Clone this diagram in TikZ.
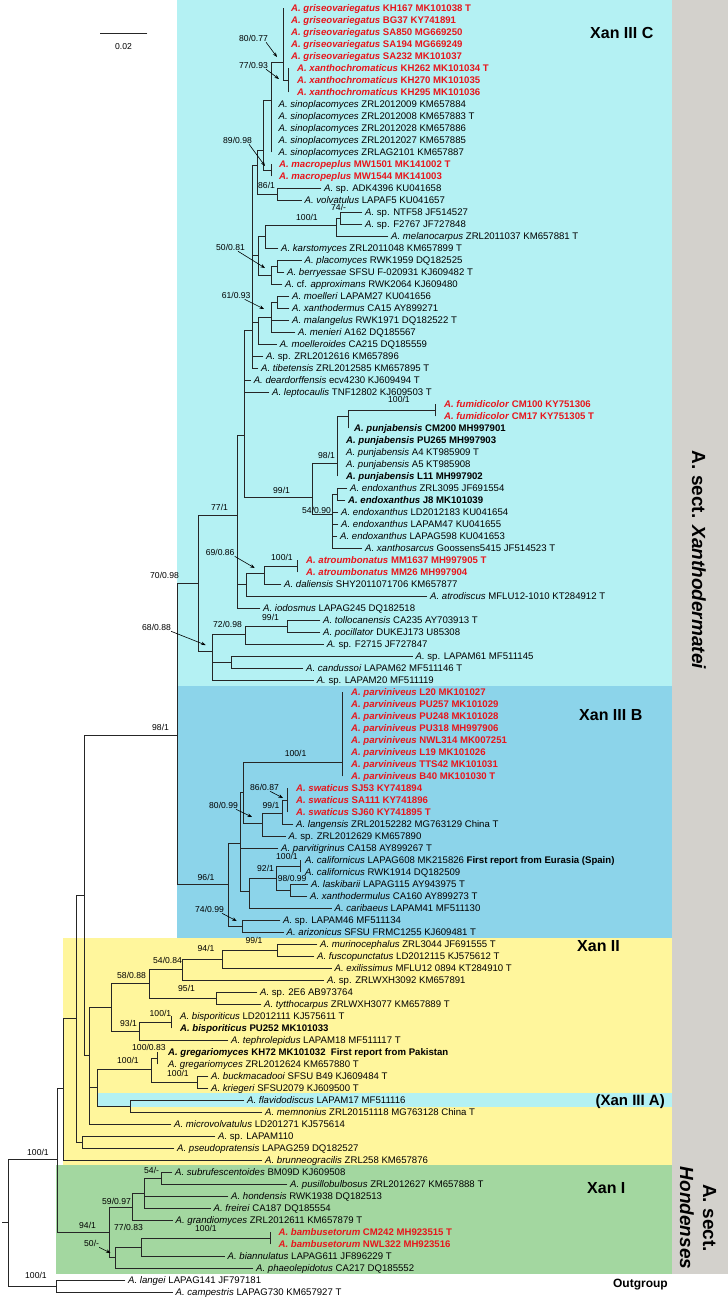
\documentclass[tikz,border=0pt]{standalone}
\usepackage{fontspec}
\setmainfont{Liberation Sans}
\usetikzlibrary{arrows.meta}
\definecolor{xred}{HTML}{E8161C}
\definecolor{bgc}{HTML}{B4F1F3}
\definecolor{bgb}{HTML}{8CD4EA}
\definecolor{bgy}{HTML}{FFF69C}
\definecolor{bgg}{HTML}{A3D7A0}
\definecolor{bgr}{HTML}{D3D1CC}
\begin{document}
\begin{tikzpicture}[x=1pt,y=-1pt,
 lf/.style={anchor=west, inner xsep=3pt, inner ysep=0pt, text height=6.9pt, text depth=0pt, font=\fontsize{9.6}{11}\selectfont},
 rd/.style={lf, font=\fontsize{9.6}{11}\selectfont\bfseries, text=xred},
 bd/.style={lf, font=\fontsize{9.6}{11}\selectfont\bfseries},
 br/.style={draw=black!85, line width=0.75pt, line cap=rect},
 sup/.style={anchor=west, inner sep=0pt, text height=6.2pt, text depth=0pt, font=\fontsize{8.6}{10}\selectfont},
 arr/.style={draw=black, line width=0.6pt, -{Stealth[length=4.5pt,width=3.5pt]}},
 clade/.style={anchor=west, inner sep=0pt, text height=11.5pt, text depth=0pt, font=\fontsize{16}{18}\selectfont\bfseries}]
\useasboundingbox (0,0) rectangle (728,1299);
% backgrounds
\fill[bgc] (177,0) rectangle (672,686);
\fill[bgb] (177,686) rectangle (672,938);
\fill[bgy] (63,938) rectangle (672,1165);
\fill[bgc] (97,1093) rectangle (672,1107);
\fill[bgg] (56,1165) rectangle (672,1274);
\fill[bgr] (672,0) rectangle (728,1274);
% section labels
\node[rotate=-90, inner sep=0pt, font=\fontsize{19}{23}\selectfont\bfseries] (secX) at (699,560) {A. sect. \textit{Xanthodermatei}};
\node[rotate=-90, inner sep=0pt, align=center, font=\fontsize{19}{23}\selectfont\bfseries] (secH) at (698,1218) {A. sect.\\\textit{Hondenses}};
\node[clade] (cC) at (590,33) {Xan III C};
\node[clade] (cB) at (579,715) {Xan III B};
\node[clade] (cII) at (577,946) {Xan II};
\node[anchor=east, inner sep=0pt, text height=10.7pt, text depth=0pt, font=\fontsize{15}{17}\selectfont\bfseries] (cA) at (665,1100) {(Xan III A)};
\node[clade] (cI) at (587,1188) {Xan I};
\node[anchor=east, inner sep=0pt, text height=8.6pt, text depth=0pt, font=\fontsize{12}{14}\selectfont\bfseries] (og) at (668,1283) {Outgroup};
% scale bar
\coordinate (sb1) at (100,33); \coordinate (sb2) at (147,33);
\draw[br] (sb1) -- (sb2);
\node[sup, anchor=center] (sbl) at (123.5,46) {0.02};
% ---------------- leaves ----------------
\node[rd,inner xsep=8pt] (l1) at (283,8) {\textit{A. griseovariegatus} KH167 MK101038 T};
\node[rd,inner xsep=8pt] (l2) at (283,20) {\textit{A. griseovariegatus} BG37 KY741891};
\node[rd,inner xsep=8pt] (l3) at (283,32) {\textit{A. griseovariegatus} SA850 MG669250};
\node[rd,inner xsep=8pt] (l4) at (283,44) {\textit{A. griseovariegatus} SA194 MG669249};
\node[rd,inner xsep=8pt] (l5) at (283,56) {\textit{A. griseovariegatus} SA232 MK101037};
\node[rd,inner xsep=8.5pt] (l6) at (288.5,68) {\textit{A. xanthochromaticus} KH262 MK101034 T};
\node[rd,inner xsep=8.5pt] (l7) at (288.5,80) {\textit{A. xanthochromaticus} KH270 MK101035};
\node[rd,inner xsep=8.5pt] (l8) at (288.5,92) {\textit{A. xanthochromaticus} KH295 MK101036};
\node[lf,inner xsep=7.5pt] (l9) at (271,104) {\textit{A. sinoplacomyces} ZRL2012009 KM657884};
\node[lf,inner xsep=7.5pt] (l10) at (271,116) {\textit{A. sinoplacomyces} ZRL2012008 KM657883 T};
\node[lf,inner xsep=7.5pt] (l11) at (271,128) {\textit{A. sinoplacomyces} ZRL2012028 KM657886};
\node[lf,inner xsep=7.5pt] (l12) at (271,140) {\textit{A. sinoplacomyces} ZRL2012027 KM657885};
\node[lf,inner xsep=7.5pt] (l13) at (271,152) {\textit{A. sinoplacomyces} ZRLAG2101 KM657887};
\node[rd,inner xsep=8pt] (l14) at (271,164) {\textit{A. macropeplus} MW1501 MK141002 T};
\node[rd,inner xsep=8pt] (l15) at (271,176) {\textit{A. macropeplus} MW1544 MK141003};
\node[lf] (l16) at (321,188) {\textit{A.} sp. ADK4396 KU041658};
\node[lf] (l17) at (301.5,200) {\textit{A. volvatulus} LAPAF5 KU041657};
\node[lf] (l18) at (362,212) {\textit{A.} sp. NTF58 JF514527};
\node[lf] (l19) at (362,224) {\textit{A.} sp. F2767 JF727848};
\node[lf] (l20) at (388,236) {\textit{A. melanocarpus} ZRL2011037 KM657881 T};
\node[lf] (l21) at (278,248) {\textit{A. karstomyces} ZRL2011048 KM657899 T};
\node[lf] (l22) at (301.5,260) {\textit{A. placomyces} RWK1959 DQ182525};
\node[lf] (l23) at (284,272) {\textit{A. berryessae} SFSU F-020931 KJ609482 T};
\node[lf] (l24) at (282,284) {\textit{A.} cf. \textit{approximans} RWK2064 KJ609480};
\node[lf] (l25) at (289,296) {\textit{A. moelleri} LAPAM27 KU041656};
\node[lf] (l26) at (289,308) {\textit{A. xanthodermus} CA15 AY899271};
\node[lf] (l27) at (289,320) {\textit{A. malangelus} RWK1971 DQ182522 T};
\node[lf] (l28) at (295,332) {\textit{A. menieri} A162 DQ185567};
\node[lf] (l29) at (276.6,344) {\textit{A. moelleroides} CA215 DQ185559};
\node[lf] (l30) at (263,356) {\textit{A.} sp. ZRL2012616 KM657896};
\node[lf] (l31) at (258,368) {\textit{A. tibetensis} ZRL2012585 KM657895 T};
\node[lf] (l32) at (250.6,380) {\textit{A. deardorffensis} ecv4230 KJ609494 T};
\node[lf] (l33) at (269,392) {\textit{A. leptocaulis} TNF12802 KJ609503 T};
\node[rd,inner xsep=9pt] (l34) at (435,404) {\textit{A. fumidicolor} CM100 KY751306};
\node[rd,inner xsep=9pt] (l35) at (435,416) {\textit{A. fumidicolor} CM17 KY751305 T};
\node[bd,inner xsep=6pt] (l36) at (348,428) {\textit{A. punjabensis} CM200 MH997901};
\node[bd,inner xsep=9pt] (l37) at (337,440) {\textit{A. punjabensis} PU265 MH997903};
\node[lf,inner xsep=9pt] (l38) at (337,452) {\textit{A. punjabensis} A4 KT985909 T};
\node[lf,inner xsep=9pt] (l39) at (337,464) {\textit{A. punjabensis} A5 KT985908};
\node[bd,inner xsep=9pt] (l40) at (337,476) {\textit{A. punjabensis} L11 MH997902};
\node[lf] (l41) at (347,488) {\textit{A. endoxanthus} ZRL3095 JF691554};
\node[bd] (l42) at (345,500) {\textit{A. endoxanthus} J8 MK101039};
\node[lf] (l43) at (338,512) {\textit{A. endoxanthus} LD2012183 KU041654};
\node[lf] (l44) at (338,524) {\textit{A. endoxanthus} LAPAM47 KU041655};
\node[lf] (l45) at (337,536) {\textit{A. endoxanthus} LAPAG598 KU041653};
\node[lf] (l46) at (362,548) {\textit{A. xanthosarcus} Goossens5415 JF514523 T};
\node[rd,inner xsep=9pt] (l47) at (297,560) {\textit{A. atroumbonatus} MM1637 MH997905 T};
\node[rd,inner xsep=9pt] (l48) at (297,572) {\textit{A. atroumbonatus} MM26 MH997904};
\node[lf] (l49) at (281,584) {\textit{A. daliensis} SHY2011071706 KM657877};
\node[lf] (l50) at (427,596) {\textit{A. atrodiscus} MFLU12-1010 KT284912 T};
\node[lf] (l51) at (260,608) {\textit{A. iodosmus} LAPAG245 DQ182518};
\node[lf] (l52) at (320,620) {\textit{A. tollocanensis} CA235 AY703913 T};
\node[lf] (l53) at (320,632) {\textit{A. pocillator} DUKEJ173 U85308};
\node[lf] (l54) at (323.6,644) {\textit{A.} sp. F2715 JF727847};
\node[lf] (l55) at (412.5,656) {\textit{A.} sp. LAPAM61 MF511145};
\node[lf] (l56) at (303,668) {\textit{A. candussoi} LAPAM62 MF511146 T};
\node[lf] (l57) at (313.6,680) {\textit{A.} sp. LAPAM20 MF511119};
% Xan III B
\node[rd,inner xsep=9pt] (l58) at (342,692) {\textit{A. parviniveus} L20 MK101027};
\node[rd,inner xsep=9pt] (l59) at (342,704) {\textit{A. parviniveus} PU257 MK101029};
\node[rd,inner xsep=9pt] (l60) at (342,716) {\textit{A. parviniveus} PU248 MK101028};
\node[rd,inner xsep=9pt] (l61) at (342,728) {\textit{A. parviniveus} PU318 MH997906};
\node[rd,inner xsep=9pt] (l62) at (342,740) {\textit{A. parviniveus} NWL314 MK007251};
\node[rd,inner xsep=9pt] (l63) at (342,752) {\textit{A. parviniveus} L19 MK101026};
\node[rd,inner xsep=9pt] (l64) at (342,764) {\textit{A. parviniveus} TTS42 MK101031};
\node[rd,inner xsep=9pt] (l65) at (342,776) {\textit{A. parviniveus} B40 MK101030 T};
\node[rd,inner xsep=8.6pt] (l66) at (287.4,788) {\textit{A. swaticus} SJ53 KY741894};
\node[rd,inner xsep=8.6pt] (l67) at (287.4,800) {\textit{A. swaticus} SA111 KY741896};
\node[rd,inner xsep=8.6pt] (l68) at (287.4,812) {\textit{A. swaticus} SJ60 KY741895 T};
\node[lf] (l69) at (293,824) {\textit{A. langensis} ZRL20152282 MG763129 China T};
\node[lf] (l70) at (285.5,836) {\textit{A.} sp. ZRL2012629 KM657890};
\node[lf] (l71) at (278,848) {\textit{A. parvitigrinus} CA158 AY899267 T};
\node[lf,inner xsep=4.3pt] (l72) at (300.7,860) {\textit{A. californicus} LAPAG608 MK215826 \textbf{First report from Eurasia (Spain)}};
\node[lf,inner xsep=4.3pt] (l73) at (300.7,872) {\textit{A. californicus} RWK1914 DQ182509};
\node[lf] (l74) at (308,884) {\textit{A. laskibarii} LAPAG115 AY943975 T};
\node[lf] (l75) at (307,896) {\textit{A. xanthodermulus} CA160 AY899273 T};
\node[lf] (l76) at (331.5,908) {\textit{A. caribaeus} LAPAM41 MF511130};
\node[lf] (l77) at (280,920) {\textit{A.} sp. LAPAM46 MF511134};
\node[lf] (l78) at (283.5,932) {\textit{A. arizonicus} SFSU FRMC1255 KJ609481 T};
% Xan II
\node[lf] (l79) at (317,944) {\textit{A. murinocephalus} ZRL3044 JF691555 T};
\node[lf] (l80) at (314,956) {\textit{A. fuscopunctatus} LD2012115 KJ575612 T};
\node[lf] (l81) at (331.5,968) {\textit{A. exilissimus} MFLU12 0894 KT284910 T};
\node[lf] (l82) at (324,980) {\textit{A.} sp. ZRLWXH3092 KM657891};
\node[lf] (l83) at (257,992) {\textit{A.} sp. 2E6 AB973764};
\node[lf] (l84) at (261,1004) {\textit{A. tytthocarpus} ZRLWXH3077 KM657889 T};
\node[lf,inner xsep=9pt] (l85) at (171,1016) {\textit{A. bisporiticus} LD2012111 KJ575611 T};
\node[bd,inner xsep=9pt] (l86) at (171,1028) {\textit{A. bisporiticus} PU252 MK101033};
\node[lf] (l87) at (228,1040) {\textit{A. tephrolepidus} LAPAM18 MF511117 T};
\node[bd,inner xsep=11pt] (l88) at (157,1052) {\textit{A. gregariomyces} KH72 MK101032\ \ First report from Pakistan};
\node[lf,inner xsep=11pt] (l89) at (157,1064) {\textit{A. gregariomyces} ZRL2012624 KM657880 T};
\node[lf] (l90) at (208,1076) {\textit{A. buckmacadooi} SFSU B49 KJ609484 T};
\node[lf] (l91) at (208,1088) {\textit{A. kriegeri} SFSU2079 KJ609500 T};
\node[lf] (l92) at (244,1100) {\textit{A. flavidodiscus} LAPAM17 MF511116};
\node[lf] (l93) at (262,1112) {\textit{A. memnonius} ZRL20151118 MG763128 China T};
\node[lf] (l94) at (171,1124) {\textit{A. microvolvatulus} LD201271 KJ575614};
\node[lf] (l95) at (215,1136) {\textit{A.} sp. LAPAM110};
\node[lf] (l96) at (174,1148) {\textit{A. pseudopratensis} LAPAG259 DQ182527};
\node[lf] (l97) at (262,1160) {\textit{A. brunneogracilis} ZRL258 KM657876};
% Xan I
\node[lf] (l98) at (172,1172) {\textit{A. subrufescentoides} BM09D KJ609508};
\node[lf] (l99) at (287,1184) {\textit{A. pusillobulbosus} ZRL2012627 KM657888 T};
\node[lf] (l100) at (228,1196) {\textit{A. hondensis} RWK1938 DQ182513};
\node[lf] (l101) at (210.5,1208) {\textit{A. freirei} CA187 DQ185554};
\node[lf] (l102) at (172.5,1220) {\textit{A. grandiomyces} ZRL2012611 KM657879 T};
\node[rd,inner xsep=8.5pt] (l103) at (270,1232) {\textit{A. bambusetorum} CM242 MH923515 T};
\node[rd,inner xsep=8.5pt] (l104) at (270,1244) {\textit{A. bambusetorum} NWL322 MH923516};
\node[lf] (l105) at (224.5,1256) {\textit{A. biannulatus} LAPAG611 JF896229 T};
\node[lf] (l106) at (253,1268) {\textit{A. phaeolepidotus} CA217 DQ185552};
\node[lf] (l107) at (125,1280) {\textit{A. langei} LAPAG141 JF797181};
\node[lf] (l108) at (172.5,1292) {\textit{A. campestris} LAPAG730 KM657927 T};
% ---------------- internal nodes ----------------
\coordinate (nGX) at (283,62); \coordinate (nXC) at (288.5,80); \coordinate (nSI) at (271,100);
\coordinate (nMP) at (271,170); \coordinate (nMA) at (263,150); \coordinate (nSP) at (277,194);
\coordinate (nV) at (257,165); \coordinate (n74) at (340,218); \coordinate (n100) at (336,225);
\coordinate (nK) at (265,236); \coordinate (nPB) at (277,266); \coordinate (nPA) at (271.5,275);
\coordinate (nP50) at (258,255); \coordinate (nMX) at (277,302); \coordinate (nML) at (271.5,317);
\coordinate (nM61) at (258,322); \coordinate (nB) at (252,330); \coordinate (nL) at (244,435);
\coordinate (nFU) at (435,410); \coordinate (nCM) at (348,416); \coordinate (n98) at (337,463);
\coordinate (nE2) at (337,494); \coordinate (nEN) at (332,514); \coordinate (n99) at (312,497);
\coordinate (nAT) at (297,566); \coordinate (nDA) at (264,573); \coordinate (n69) at (246,584);
\coordinate (n77) at (237.6,515); \coordinate (nTP) at (287,626); \coordinate (n72) at (245,634);
\coordinate (nCA) at (231,662); \coordinate (n68) at (212.7,651); \coordinate (n70) at (198,583);
\coordinate (nPV) at (342,762); \coordinate (nSW) at (287.4,800); \coordinate (n99B) at (282.5,813);
\coordinate (n80) at (262,823); \coordinate (nA1) at (243,792); \coordinate (nCL) at (300.7,866);
\coordinate (nLX) at (290,890); \coordinate (n92) at (276,878); \coordinate (nCB) at (249,891);
\coordinate (nA2) at (240,843); \coordinate (n74B) at (242,926); \coordinate (n96) at (228,884);
\coordinate (n98B) at (177,735);
\coordinate (nMF) at (277,950); \coordinate (n94) at (222,959); \coordinate (n54) at (182,969);
\coordinate (n95) at (216,998); \coordinate (n58) at (149.5,983); \coordinate (nBI) at (171,1022);
\coordinate (n93) at (139.5,1031); \coordinate (n111) at (111,1007); \coordinate (nGR) at (157,1058);
\coordinate (nBK) at (197.5,1082); \coordinate (n151) at (151,1069); \coordinate (nFM) at (130,1106);
\coordinate (n97) at (97,1087); \coordinate (n89) at (89,1055); \coordinate (n84) at (84,895);
\coordinate (nLP) at (82,1142); \coordinate (n76) at (76,1018); \coordinate (n63) at (63,1088);
\coordinate (n54X) at (161,1178); \coordinate (n144) at (144,1193); \coordinate (n132) at (132,1207);
\coordinate (nBA) at (270,1238); \coordinate (n77X) at (141.6,1247); \coordinate (n50X) at (115,1257);
\coordinate (n109) at (109,1232); \coordinate (n57) at (57,1159); \coordinate (nOG) at (56,1286);
\coordinate (rt) at (8,1222); \coordinate (rs) at (2,1222);
% ---------------- branches ----------------
\foreach \c in {l1,l2,l3,l4,l5,nXC} \draw[br] (nGX) |- (\c);
\foreach \c in {l6,l7,l8} \draw[br] (nXC) |- (\c);
\foreach \c in {nGX,l9,l10,l11,l12,l13} \draw[br] (nSI) |- (\c);
\foreach \c in {l14,l15} \draw[br] (nMP) |- (\c);
\foreach \c in {nSI,nMP} \draw[br] (nMA) |- (\c);
\foreach \c in {l16,l17} \draw[br] (nSP) |- (\c);
\foreach \c in {nMA,nSP} \draw[br] (nV) |- (\c);
\foreach \c in {l18,l19} \draw[br] (n74) |- (\c);
\foreach \c in {n74,l20} \draw[br] (n100) |- (\c);
\foreach \c in {n100,l21} \draw[br] (nK) |- (\c);
\foreach \c in {l22,l23} \draw[br] (nPB) |- (\c);
\foreach \c in {nPB,l24} \draw[br] (nPA) |- (\c);
\foreach \c in {nK,nPA} \draw[br] (nP50) |- (\c);
\foreach \c in {l25,l26} \draw[br] (nMX) |- (\c);
\foreach \c in {nMX,l27,l28} \draw[br] (nML) |- (\c);
\foreach \c in {nML,l29} \draw[br] (nM61) |- (\c);
\foreach \c in {nV,nP50,nM61,l30,l31} \draw[br] (nB) |- (\c);
\foreach \c in {nB,l32,l33,n99} \draw[br] (nL) |- (\c);
\foreach \c in {l34,l35} \draw[br] (nFU) |- (\c);
\foreach \c in {nFU,l36} \draw[br] (nCM) |- (\c);
\foreach \c in {nCM,l37,l38,l39,l40} \draw[br] (n98) |- (\c);
\foreach \c in {l41,l42} \draw[br] (nE2) |- (\c);
\foreach \c in {nE2,l43,l44,l45,l46} \draw[br] (nEN) |- (\c);
\foreach \c in {n98,nEN} \draw[br] (n99) |- (\c);
\foreach \c in {l47,l48} \draw[br] (nAT) |- (\c);
\foreach \c in {nAT,l49} \draw[br] (nDA) |- (\c);
\foreach \c in {nDA,l50} \draw[br] (n69) |- (\c);
\foreach \c in {nL,n69,l51} \draw[br] (n77) |- (\c);
\foreach \c in {l52,l53} \draw[br] (nTP) |- (\c);
\foreach \c in {nTP,l54} \draw[br] (n72) |- (\c);
\foreach \c in {l55,l56} \draw[br] (nCA) |- (\c);
\foreach \c in {n72,nCA,l57} \draw[br] (n68) |- (\c);
\foreach \c in {n77,n68} \draw[br] (n70) |- (\c);
\foreach \i in {58,...,65} \draw[br] (nPV) |- (l\i);
\foreach \i in {66,67,68} \draw[br] (nSW) |- (l\i);
\foreach \c in {nSW,l69} \draw[br] (n99B) |- (\c);
\foreach \c in {n99B,l70} \draw[br] (n80) |- (\c);
\foreach \c in {nPV,n80} \draw[br] (nA1) |- (\c);
\foreach \c in {l72,l73} \draw[br] (nCL) |- (\c);
\foreach \c in {l74,l75} \draw[br] (nLX) |- (\c);
\foreach \c in {nCL,nLX} \draw[br] (n92) |- (\c);
\foreach \c in {n92,l76} \draw[br] (nCB) |- (\c);
\foreach \c in {nA1,l71,nCB} \draw[br] (nA2) |- (\c);
\foreach \c in {l77,l78} \draw[br] (n74B) |- (\c);
\foreach \c in {nA2,n74B} \draw[br] (n96) |- (\c);
\foreach \c in {n70,n96} \draw[br] (n98B) |- (\c);
\foreach \c in {l79,l80} \draw[br] (nMF) |- (\c);
\foreach \c in {nMF,l81} \draw[br] (n94) |- (\c);
\foreach \c in {n94,l82} \draw[br] (n54) |- (\c);
\foreach \c in {l83,l84} \draw[br] (n95) |- (\c);
\foreach \c in {n54,n95} \draw[br] (n58) |- (\c);
\foreach \c in {l85,l86} \draw[br] (nBI) |- (\c);
\foreach \c in {nBI,l87} \draw[br] (n93) |- (\c);
\foreach \c in {n58,n93} \draw[br] (n111) |- (\c);
\foreach \c in {l88,l89} \draw[br] (nGR) |- (\c);
\foreach \c in {l90,l91} \draw[br] (nBK) |- (\c);
\foreach \c in {nGR,nBK} \draw[br] (n151) |- (\c);
\foreach \c in {l92,l93} \draw[br] (nFM) |- (\c);
\foreach \c in {n151,nFM} \draw[br] (n97) |- (\c);
\foreach \c in {n111,n97,l94} \draw[br] (n89) |- (\c);
\foreach \c in {n98B,n89} \draw[br] (n84) |- (\c);
\foreach \c in {l95,l96} \draw[br] (nLP) |- (\c);
\foreach \c in {n84,nLP} \draw[br] (n76) |- (\c);
\foreach \c in {n76,l97} \draw[br] (n63) |- (\c);
\foreach \c in {l98,l99} \draw[br] (n54X) |- (\c);
\foreach \c in {n54X,l100,l101} \draw[br] (n144) |- (\c);
\foreach \c in {n144,l102} \draw[br] (n132) |- (\c);
\foreach \c in {l103,l104} \draw[br] (nBA) |- (\c);
\foreach \c in {nBA,l105} \draw[br] (n77X) |- (\c);
\foreach \c in {n77X,l106} \draw[br] (n50X) |- (\c);
\foreach \c in {n132,n50X} \draw[br] (n109) |- (\c);
\foreach \c in {n63,n109} \draw[br] (n57) |- (\c);
\foreach \c in {l107,l108} \draw[br] (nOG) |- (\c);
\foreach \c in {n57,nOG} \draw[br] (rt) |- (\c);
\draw[br] (rs) -- (rt);
% ---------------- support values ----------------
\node[sup] (s1) at (239,38) {80/0.77};
\node[sup] (s2) at (239,65) {77/0.93};
\node[sup] (s3) at (223,140) {89/0.98};
\node[sup] (s4) at (258,185) {86/1};
\node[sup] (s5) at (331,207) {74/-};
\node[sup] (s6) at (296,217) {100/1};
\node[sup] (s7) at (216,247) {50/0.81};
\node[sup] (s8) at (221.6,295) {61/0.93};
\node[sup] (s9) at (388,399.5) {100/1};
\node[sup] (s10) at (318,455) {98/1};
\node[sup] (s11) at (273,490) {99/1};
\node[sup] (s12) at (302,510) {54/0.90};
\node[sup] (s13) at (211,507) {77/1};
\node[sup] (s14) at (205.6,552) {69/0.86};
\node[sup] (s15) at (271,557) {100/1};
\node[sup] (s16) at (150,575) {70/0.98};
\node[sup] (s17) at (262,617) {99/1};
\node[sup] (s18) at (213,624) {72/0.98};
\node[sup] (s19) at (142,627) {68/0.88};
\node[sup] (s20) at (284.6,753) {100/1};
\node[sup] (s21) at (250,787) {86/0.87};
\node[sup] (s22) at (262.5,805) {99/1};
\node[sup] (s23) at (209,805) {80/0.99};
\node[sup] (s24) at (152,727) {98/1};
\node[sup] (s25) at (197.5,877) {96/1};
\node[sup] (s26) at (276,856) {100/1};
\node[sup] (s27) at (257,868) {92/1};
\node[sup] (s28) at (277.6,878) {98/0.99};
\node[sup] (s29) at (195,909) {74/0.99};
\node[sup] (s30) at (245.5,940) {99/1};
\node[sup] (s31) at (197.5,948) {94/1};
\node[sup] (s32) at (153,960) {54/0.84};
\node[sup] (s33) at (117,975) {58/0.88};
\node[sup] (s34) at (178,988) {95/1};
\node[sup] (s35) at (149.5,1013) {100/1};
\node[sup] (s36) at (120,1023) {93/1};
\node[sup] (s37) at (132,1047) {100/0.83};
\node[sup] (s38) at (117,1060) {100/1};
\node[sup] (s39) at (167,1073) {100/1};
\node[sup] (s40) at (27,1152) {100/1};
\node[sup] (s41) at (144,1170) {54/-};
\node[sup] (s42) at (102,1201) {59/0.97};
\node[sup] (s43) at (79,1225) {94/1};
\node[sup] (s44) at (114,1227) {77/0.83};
\node[sup] (s45) at (195,1228) {100/1};
\node[sup] (s46) at (84,1243) {50/-};
\node[sup] (s47) at (25,1275) {100/1};
% arrows
\coordinate (a1) at (277,57); \coordinate (a2) at (279,79); \coordinate (a3) at (265,166);
\coordinate (a4) at (265,268); \coordinate (a5) at (264,309); \coordinate (a6) at (254.7,568);
\coordinate (a7) at (205.6,645); \coordinate (a8) at (283,798); \coordinate (a9) at (252,817);
\coordinate (a10) at (236.7,921); \coordinate (a11) at (110.5,1253);
\draw[arr] ([xshift=-2pt,yshift=-1pt]s1.south east) -- (a1);
\draw[arr] ([xshift=-2pt,yshift=-1pt]s2.south east) -- (a2);
\draw[arr] ([xshift=-3pt,yshift=-1pt]s3.south east) -- (a3);
\draw[arr] ([xshift=-7pt,yshift=-1pt]s7.south east) -- (a4);
\draw[arr] ([xshift=-6pt,yshift=-1pt]s8.south east) -- (a5);
\draw[arr] ([yshift=-1pt]s14.south east) -- (a6);
\draw[arr] ([yshift=-1pt]s19.south east) -- (a7);
\draw[arr] ([xshift=-9pt,yshift=-1pt]s21.south east) -- (a8);
\draw[arr] ([xshift=-2pt,yshift=-1pt]s23.south east) -- (a9);
\draw[arr] ([xshift=-2pt,yshift=-1pt]s29.south east) -- (a10);
\draw[arr] ([yshift=-1pt]s46.south east) -- (a11);
\end{tikzpicture}
\end{document}
